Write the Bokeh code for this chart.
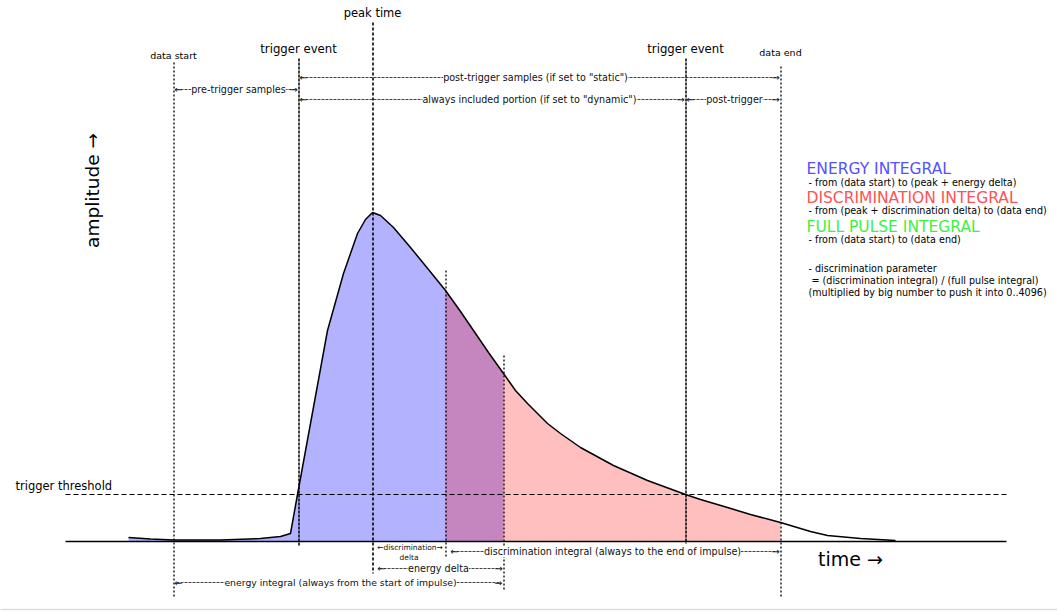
import math
from bokeh.plotting import figure
from bokeh.models import Range1d, Label
from bokeh.core.properties import value
from bokeh.embed import file_html
from bokeh.resources import INLINE

# ---- data (time in px-like units, amplitude above baseline) ----
curve_t = [128, 150, 173, 220, 260, 280, 290, 297, 310, 327, 343, 357, 365, 372, 380, 393,
           410, 428, 445, 460, 473, 488, 503, 515, 527, 547, 560, 580, 613, 647, 685, 700,
           727, 750, 780, 810, 827, 860, 895]
curve_a = [4, 2.5, 1.5, 1.5, 3, 5, 8, 47, 118, 211, 268, 308, 322, 329, 326, 314,
           294, 272, 251, 230, 211, 189, 168, 151, 138, 118, 108, 94, 76, 61, 47, 42,
           34, 27, 19, 10, 6, 3, 1]

t_data_start = 173
t_trigger1 = 298
t_peak = 372
t_disc_delta_end = 445
t_energy_delta_end = 503
t_trigger2 = 685
t_data_end = 780
threshold = 47

legend_titles = ["ENERGY INTEGRAL", "DISCRIMINATION INTEGRAL", "FULL PULSE INTEGRAL"]
legend_notes = ["- from (data start) to (peak + energy delta)",
                "- from (peak + discrimination delta) to (data end)",
                "- from (data start) to (data end)"]
legend_colors = ["#5252ff", "#ff5252", "#3ff03f"]
param_notes = ["- discrimination parameter",
               "= (discrimination integral) / (full pulse integral)",
               "(multiplied by big number to push it into 0..4096)"]

FONT = "DejaVu Sans"
W, H = 1057, 611


def A(py):
    # convert page-row position to amplitude coordinate (layout helper)
    return 541 - py


p = figure(width=W, height=H, x_range=Range1d(0, W), y_range=Range1d(A(H), A(0)),
           output_backend="svg", toolbar_location=None, min_border=0,
           x_axis_location=None, y_axis_location=None)
p.grid.visible = False
p.outline_line_color = None
p.background_fill_color = "white"
p.border_fill_color = "white"

# ---- fills ----
bx = [t for t in curve_t if t <= t_energy_delta_end]
by = [a for t, a in zip(curve_t, curve_a) if t <= t_energy_delta_end]
p.patch(bx + [t_energy_delta_end, bx[0]], by + [0, 0], fill_color="#0000ff", fill_alpha=0.3, line_color=None)
rx = [t for t in curve_t if t_disc_delta_end <= t <= t_data_end]
ry = [a for t, a in zip(curve_t, curve_a) if t_disc_delta_end <= t <= t_data_end]
p.patch(rx + [t_data_end, t_disc_delta_end], ry + [0, 0], fill_color="#ff0000", fill_alpha=0.25, line_color=None)

# ---- baseline & threshold ----
p.line([65, 1006], [0, 0], line_color="black", line_width=1.6)
p.line([65, 1006], [threshold, threshold], line_color="black", line_width=1.2, line_dash="5 3")

# ---- curve ----
p.line(curve_t, curve_a, line_color="black", line_width=1.5)

# ---- vertical markers (offset half a pixel so thin dots stay crisp) ----
def vline(t, py0, py1, dash, w):
    p.line([t + 0.5, t + 0.5], [A(py0), A(py1)], line_color="black", line_width=w, line_dash=dash)

vline(t_data_start, 62, 596, "2 2", 1.3)
vline(t_trigger1, 58, 545, "3 1", 1.5)
vline(t_peak, 22, 573, "3 2", 1.6)
vline(t_disc_delta_end, 270, 557, "2 2", 1.3)
vline(t_energy_delta_end, 355, 590, "2 2", 1.3)
vline(t_trigger2, 58, 543, "3 1", 1.5)
vline(t_data_end, 66, 596, "2 2", 1.3)

# ---- text helper ----
def txt(x, py, s, size, align="center", color="black", angle=0.0):
    p.text(x=[x], y=[A(py)], text=[s], text_font=value(FONT), text_font_size=value(size),
           text_align=align, text_baseline="middle", text_color=color, angle=angle)

def arrow(t0, t1, py, label, center=None, size="9.6px"):
    p.line([t0 + 3, t1 - 3], [A(py), A(py)], line_color="#111111", line_width=0.8, line_dash="3 1")
    txt(t0 + 1, py, "←", size, align="left", color="#111111")
    txt(t1 - 1, py, "→", size, align="right", color="#111111")
    c = center if center is not None else (t0 + t1) / 2
    p.add_layout(Label(x=c, y=A(py), text=label, text_align="center", text_baseline="middle",
                       text_font=FONT, text_font_size=size, text_color="#111111",
                       background_fill_color="white"))

# top labels
txt(t_peak, 12, "peak time", "11.5px")
txt(t_trigger1, 48, "trigger event", "11.7px")
txt(t_trigger2, 48, "trigger event", "11.7px")
txt(t_data_start, 55, "data start", "9.5px")
txt(t_data_end, 52, "data end", "9.5px")

# top arrows
arrow(t_trigger1, t_data_end, 77, 'post-trigger samples (if set to "static")', center=535)
arrow(t_data_start, t_trigger1, 89, "pre-trigger samples", center=238)
arrow(t_trigger1, t_trigger2, 99, 'always included portion (if set to "dynamic")', center=529)
arrow(t_trigger2, t_data_end, 99, "post-trigger", center=734)

# bottom arrows
txt((t_peak + t_disc_delta_end) / 2 + 1, 547, "←discrimination→", "7.5px", color="#111111")
txt((t_peak + t_disc_delta_end) / 2, 557, "delta", "7.5px", color="#111111")
arrow(t_disc_delta_end + 4, t_data_end, 551, "discrimination integral (always to the end of impulse)", center=612)
arrow(t_peak + 4, t_energy_delta_end, 568, "energy delta", center=438)
arrow(t_data_start, t_energy_delta_end, 582, "energy integral (always from the start of impulse)", center=340, size="9.3px")

# axes-like labels
txt(92, 190, "amplitude →", "18.5px", angle=math.pi / 2)
txt(850, 558, "time →", "19px")
txt(15, 485, "trigger threshold", "11.5px", align="left")

# legend block
leg_title_rows = [168, 197, 226]
leg_note_rows = [182, 210, 239]
for r, s, c in zip(leg_title_rows, legend_titles, legend_colors):
    txt(806, r, s, "15.5px", align="left", color=c)
for r, s in zip(leg_note_rows, legend_notes):
    txt(808, r, s, "9.6px", align="left")
for r, s, dx in zip([268, 280, 292], param_notes, [808, 811, 808]):
    txt(dx, r, s, "9.6px", align="left")

# faint page rule at bottom
p.line([0, W], [A(609), A(609)], line_color="#dddddd", line_width=1.5)

open("out.html", "w").write(file_html(p, INLINE))
